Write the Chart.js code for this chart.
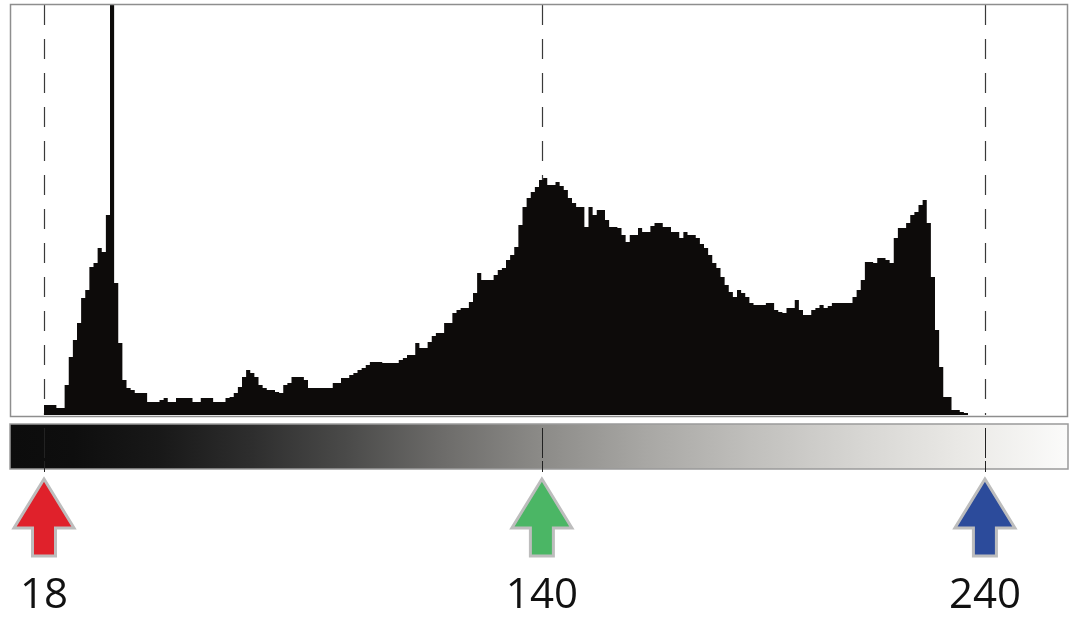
<!DOCTYPE html>
<html>
<head>
<meta charset="utf-8">
<title>Histogram</title>
<script src="https://cdn.jsdelivr.net/npm/chart.js@4"></script>
<style>
  html, body { margin: 0; padding: 0; background: #fff; }
  #wrap { width: 1070px; height: 618px; }
</style>
</head>
<body>
<div id="wrap"><canvas id="histo" width="1070" height="618"></canvas></div>
<script>
// histogram heights, one per tone bin (0..255)
const binCounts = [
  0, 0, 0, 0, 0, 0, 0, 0, 10, 10, 10, 7, 7, 30, 58, 75,
  92, 117, 125, 148, 152, 167, 163, 200, 420, 132, 72, 35, 27, 25, 22, 22,
  22, 13, 13, 13, 15, 17, 13, 13, 17, 17, 17, 17, 13, 13, 17, 17,
  17, 13, 13, 13, 17, 18, 22, 28, 38, 45, 42, 38, 30, 27, 25, 25,
  23, 22, 30, 32, 38, 38, 38, 35, 27, 27, 27, 27, 27, 27, 32, 32,
  37, 37, 40, 42, 45, 47, 50, 53, 53, 53, 52, 52, 52, 52, 55, 57,
  60, 60, 72, 67, 67, 73, 79, 82, 82, 92, 92, 102, 105, 107, 107, 113,
  122, 142, 135, 135, 135, 140, 145, 147, 155, 160, 168, 190, 208, 217, 223, 228,
  235, 237, 230, 230, 233, 229, 225, 217, 212, 208, 208, 188, 208, 200, 205, 205,
  195, 188, 188, 187, 180, 173, 180, 180, 187, 183, 183, 189, 192, 192, 188, 188,
  183, 183, 177, 183, 180, 180, 177, 171, 167, 160, 152, 147, 138, 130, 123, 118,
  125, 122, 118, 112, 110, 110, 110, 112, 112, 105, 103, 102, 107, 107, 115, 105,
  100, 100, 105, 107, 110, 107, 109, 112, 112, 112, 112, 112, 118, 125, 135, 153,
  153, 152, 157, 157, 155, 152, 177, 187, 187, 192, 200, 203, 210, 215, 192, 138,
  85, 48, 18, 18, 5, 5, 3, 2, 0, 0, 0, 0, 0, 0, 0, 0,
  0, 0, 0, 0, 0, 0, 0, 0, 0, 0, 0, 0, 0, 0, 0, 0,
];

// marker positions on the bin axis and their printed levels
const markerPos = [8, 128.7, 236.1];
const markerLabels = ['18', '140', '240'];
const markerColors = ['#e0212b', '#4bb665', '#2c4b9b'];

const binCount = binCounts.length;
const yMax = 410;

const points = binCounts.map((v, i) => ({x: i + 0.5, y: v}));

// === guides, tone bar, arrows, labels ===
const decorPlugin = {
  id: 'decor',
  beforeDatasetsDraw(chart) {
    const {ctx, chartArea: a, scales} = chart;
    ctx.save();
    ctx.strokeStyle = '#3a3a3a';
    ctx.lineWidth = 1.2;
    ctx.setLineDash([20, 14]);
    markerPos.forEach((p) => {
      const x = Math.round(scales.x.getPixelForValue(p)) + 0.5;
      ctx.beginPath();
      ctx.moveTo(x, a.top);
      ctx.lineTo(x, a.bottom);
      ctx.stroke();
    });
    ctx.restore();
  },
  afterDatasetsDraw(chart) {
    const {ctx, chartArea: a, scales} = chart;
    ctx.save();

    // plot frame
    ctx.strokeStyle = '#8e8e8e';
    ctx.lineWidth = 1.5;
    ctx.strokeRect(a.left - 0.5, a.top - 0.5, a.right - a.left + 1, a.bottom - a.top + 2);

    // tone bar under the plot
    const x0 = scales.x.getPixelForValue(0) - 1;
    const x1 = scales.x.getPixelForValue(binCount) + 1;
    const barTop = a.bottom + 9;
    const barH = 45;
    const grad = ctx.createLinearGradient(x0, 0, x1, 0);
    grad.addColorStop(0.0, '#0c0c0c');
    grad.addColorStop(0.06, '#0e0e0e');
    grad.addColorStop(0.14, '#181818');
    grad.addColorStop(0.23, '#2e2e2e');
    grad.addColorStop(0.32, '#4b4b4a');
    grad.addColorStop(0.41, '#6d6c6a');
    grad.addColorStop(0.50, '#8b8a87');
    grad.addColorStop(0.60, '#a8a7a4');
    grad.addColorStop(0.70, '#c0bfbc');
    grad.addColorStop(0.80, '#d6d5d2');
    grad.addColorStop(0.90, '#eae9e6');
    grad.addColorStop(1.0, '#fbfbfa');
    ctx.fillStyle = grad;
    ctx.fillRect(x0, barTop, x1 - x0, barH);
    ctx.strokeStyle = '#9a9a9a';
    ctx.lineWidth = 1.5;
    ctx.strokeRect(x0, barTop, x1 - x0, barH);

    // guide lines continue through the tone bar
    ctx.strokeStyle = '#222';
    ctx.lineWidth = 1;
    ctx.setLineDash([30, 3]);
    markerPos.forEach((p) => {
      const x = Math.round(scales.x.getPixelForValue(p)) + 0.5;
      ctx.beginPath();
      ctx.moveTo(x, barTop + 4);
      ctx.lineTo(x, barTop + barH + 3);
      ctx.stroke();
    });
    ctx.setLineDash([]);

    // arrows + labels
    const tipY = a.bottom + 64;
    const headY = a.bottom + 113;
    const endY = a.bottom + 141;
    markerPos.forEach((p, i) => {
      const cx = scales.x.getPixelForValue(p);
      ctx.beginPath();
      ctx.moveTo(cx, tipY);
      ctx.lineTo(cx + 30, headY);
      ctx.lineTo(cx + 11.5, headY);
      ctx.lineTo(cx + 11.5, endY);
      ctx.lineTo(cx - 11.5, endY);
      ctx.lineTo(cx - 11.5, headY);
      ctx.lineTo(cx - 30, headY);
      ctx.closePath();
      ctx.fillStyle = markerColors[i];
      ctx.fill();
      ctx.strokeStyle = '#bdbdbd';
      ctx.lineWidth = 3;
      ctx.lineJoin = 'miter';
      ctx.stroke();

      ctx.fillStyle = '#111';
      ctx.font = '42px "Open Sans", "Liberation Sans", sans-serif';
      ctx.textAlign = 'center';
      ctx.textBaseline = 'alphabetic';
      ctx.fillText(markerLabels[i], cx, a.bottom + 193);
    });

    ctx.restore();
  },
};

new Chart(document.getElementById('histo'), {
  type: 'line',
  data: {
    datasets: [
      {
        data: points,
        stepped: 'middle',
        fill: 'origin',
        backgroundColor: '#0d0b0a',
        borderColor: '#0d0b0a',
        borderWidth: 0,
        pointRadius: 0,
        clip: 0,
      },
    ],
  },
  options: {
    responsive: false,
    animation: false,
    layout: {padding: {left: 11, top: 5, right: 3, bottom: 203}},
    scales: {
      x: {type: 'linear', min: 0, max: binCount, display: false},
      y: {min: 0, max: yMax, display: false},
    },
    plugins: {legend: {display: false}, tooltip: {enabled: false}},
  },
  plugins: [decorPlugin],
});
</script>
</body>
</html>
